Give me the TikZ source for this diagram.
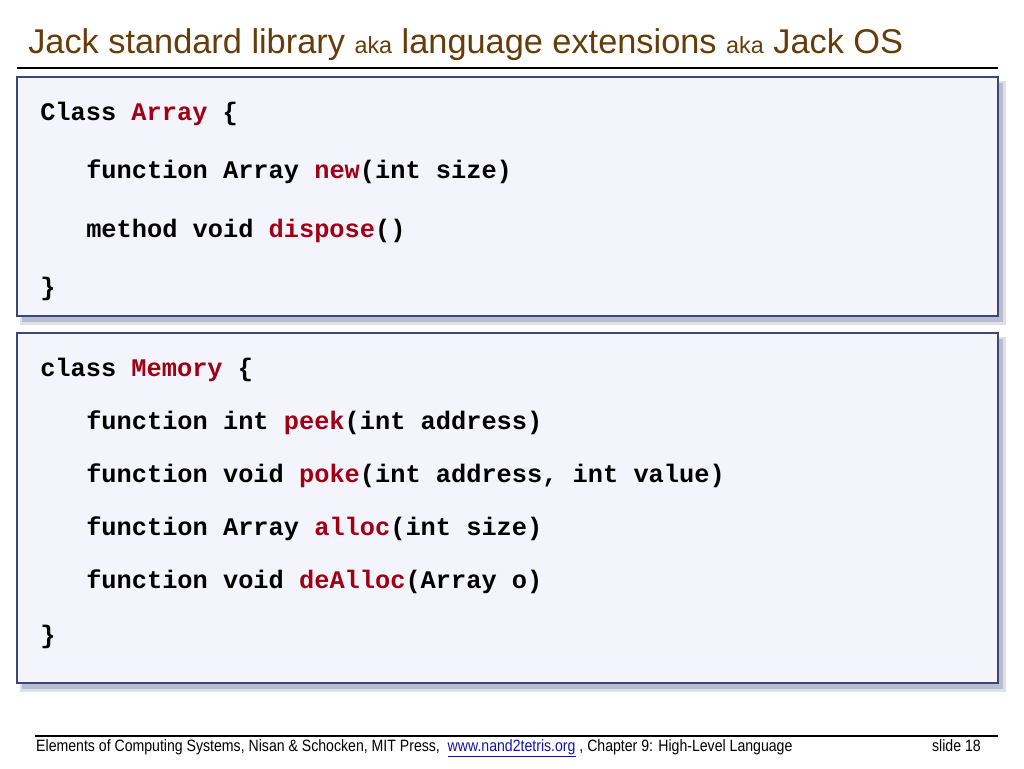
\documentclass[tikz,border=0pt]{standalone}
\usepackage{fontspec}
\setmainfont{Liberation Sans}
\setmonofont{Liberation Mono}
\usetikzlibrary{positioning}
\definecolor{titlebrown}{RGB}{102,60,10}
\definecolor{kwred}{RGB}{160,0,20}
\definecolor{boxfill}{RGB}{244,244,252}
\definecolor{boxline}{RGB}{60,70,120}
\definecolor{linkblue}{RGB}{20,20,170}
\newcommand{\kw}[1]{\textcolor{kwred}{#1}}
\tikzstyle{codebox}=[draw=boxline, line width=1pt, fill=boxfill]
\tikzstyle{shadowbox}=[fill=boxline!55, opacity=0.5]
\tikzstyle{code}=[anchor=west, inner sep=0pt, font=\fontsize{19}{22}\selectfont\ttfamily\bfseries]
\tikzstyle{footer}=[anchor=base west, inner sep=0pt, font=\fontsize{12.3}{14}\selectfont, xscale=0.86, transform shape]
\begin{document}
\begin{tikzpicture}[x=0.75pt, y=-0.75pt]
		\useasboundingbox (0,0) rectangle (1024,768);

		% Title and rule
		\node[anchor=base west, inner sep=0pt, text=titlebrown, font=\fontsize{25.75}{30}\selectfont] (title) at (28,53)
		{Jack standard library {\fontsize{17.5}{20}\selectfont aka} language extensions {\fontsize{17.5}{20}\selectfont aka} Jack OS};
		\draw[line width=2.2pt] (17,68) -- (998,68);

		% Boxes with shadows
		\foreach \top / \bot in {77/316, 333/683} {
			\fill[shadowbox] (22,\top+6) rectangle (1003,\bot+6);
			\fill[shadowbox, opacity=0.3] (20,\top+4) rectangle (1006,\bot+9);
			\path[codebox] (17,\top) rectangle (998,\bot);
		}

		% Array class
		\node[code] (a1) at (40,114) {Class \kw{Array} \{};
		\node[code] (a2) at (86,172) {function Array \kw{new}(int size)};
		\node[code] (a3) at (86,231) {method void \kw{dispose}()};
		\node[code] (a4) at (40,289) {\}};

		% Memory class
		\node[code] (m1) at (40,370) {class \kw{Memory} \{};
		\node[code] (m2) at (86,423) {function int \kw{peek}(int address)};
		\node[code] (m3) at (86,476) {function void \kw{poke}(int address, int value)};
		\node[code] (m4) at (86,529) {function Array \kw{alloc}(int size)};
		\node[code] (m5) at (86,582) {function void \kw{deAlloc}(Array o)};
		\node[code] (m6) at (40,637) {\}};

		% Footer
		\draw[line width=1pt] (35,736) -- (998,736);
		\node[footer] (foot) at (36,751) {Elements of Computing Systems, Nisan \& Schocken, MIT Press, \ \textcolor{linkblue}{\underline{www.nand2tetris.org}} , Chapter 9: High-Level Language};
		\node[footer, anchor=base east] (slide) at (981,751) {slide 18};
	\end{tikzpicture}
\end{document}
